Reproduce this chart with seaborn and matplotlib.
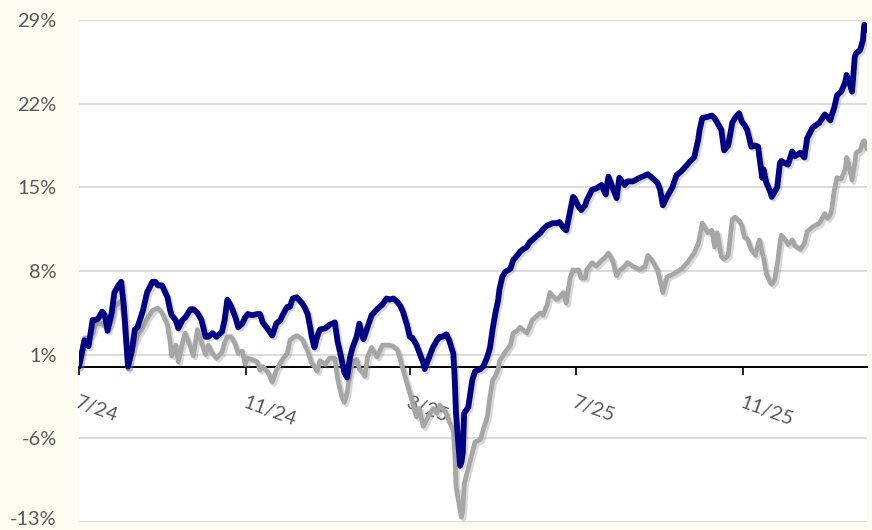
import pandas as pd
import seaborn as sns
import matplotlib
matplotlib.use('Agg')
import matplotlib.pyplot as plt
from matplotlib import patheffects
from matplotlib.ticker import FuncFormatter
from matplotlib.transforms import ScaledTranslation

# ====================
# Data (cumulative return, %)
# ====================

dates = [
    '2024-07-01', '2024-07-05', '2024-07-08', '2024-07-11', '2024-07-13', '2024-07-15', '2024-07-18',
    '2024-07-20', '2024-07-22', '2024-07-25', '2024-07-27', '2024-07-30',
    '2024-08-01', '2024-08-03', '2024-08-06', '2024-08-09', '2024-08-11', '2024-08-13', '2024-08-17',
    '2024-08-20', '2024-08-24', '2024-08-26', '2024-08-28', '2024-08-31',
    '2024-09-04', '2024-09-06', '2024-09-07', '2024-09-10', '2024-09-12', '2024-09-15', '2024-09-17',
    '2024-09-21', '2024-09-23', '2024-09-26', '2024-09-29',
    '2024-10-02', '2024-10-04', '2024-10-07', '2024-10-10', '2024-10-14', '2024-10-16', '2024-10-18',
    '2024-10-21', '2024-10-24', '2024-10-26', '2024-10-29', '2024-10-31',
    '2024-11-02', '2024-11-05', '2024-11-09', '2024-11-11', '2024-11-13', '2024-11-17', '2024-11-20',
    '2024-11-23', '2024-11-26', '2024-11-28',
    '2024-12-01', '2024-12-03', '2024-12-05', '2024-12-08', '2024-12-12', '2024-12-14', '2024-12-16',
    '2024-12-18', '2024-12-19', '2024-12-21', '2024-12-23', '2024-12-25', '2024-12-29',
    '2025-01-01', '2025-01-05', '2025-01-07', '2025-01-10', '2025-01-12', '2025-01-14', '2025-01-16',
    '2025-01-18', '2025-01-21', '2025-01-23', '2025-01-26', '2025-01-27', '2025-01-29',
    '2025-02-01', '2025-02-05', '2025-02-09', '2025-02-12', '2025-02-14', '2025-02-17', '2025-02-20',
    '2025-02-22', '2025-02-24', '2025-02-27',
    '2025-03-01', '2025-03-03', '2025-03-06', '2025-03-08', '2025-03-11', '2025-03-12', '2025-03-14',
    '2025-03-18', '2025-03-21', '2025-03-23', '2025-03-25', '2025-03-28', '2025-03-30',
    '2025-04-02', '2025-04-03', '2025-04-04', '2025-04-07', '2025-04-08', '2025-04-09', '2025-04-10',
    '2025-04-13', '2025-04-16', '2025-04-18', '2025-04-22', '2025-04-24', '2025-04-27', '2025-04-29',
    '2025-05-01', '2025-05-03', '2025-05-05', '2025-05-06', '2025-05-08', '2025-05-10', '2025-05-14',
    '2025-05-16', '2025-05-19', '2025-05-21', '2025-05-23', '2025-05-26', '2025-05-28', '2025-05-30',
    '2025-06-02', '2025-06-05', '2025-06-07', '2025-06-10', '2025-06-12', '2025-06-14', '2025-06-17',
    '2025-06-19', '2025-06-22', '2025-06-24', '2025-06-27', '2025-06-29', '2025-06-30',
    '2025-07-03', '2025-07-05', '2025-07-08', '2025-07-09', '2025-07-13', '2025-07-16', '2025-07-20',
    '2025-07-23', '2025-07-25', '2025-07-28', '2025-07-31',
    '2025-08-02', '2025-08-06', '2025-08-08', '2025-08-12', '2025-08-17', '2025-08-21', '2025-08-23',
    '2025-08-26', '2025-08-30',
    '2025-09-01', '2025-09-03', '2025-09-06', '2025-09-10', '2025-09-13', '2025-09-17', '2025-09-21',
    '2025-09-24', '2025-09-26', '2025-09-29', '2025-09-30',
    '2025-10-02', '2025-10-06', '2025-10-09', '2025-10-11', '2025-10-13', '2025-10-16', '2025-10-18',
    '2025-10-21', '2025-10-24', '2025-10-26', '2025-10-29', '2025-10-31',
    '2025-11-02', '2025-11-04', '2025-11-07', '2025-11-10', '2025-11-12', '2025-11-13', '2025-11-15',
    '2025-11-16', '2025-11-18', '2025-11-21', '2025-11-22', '2025-11-24', '2025-11-26', '2025-11-28',
    '2025-11-29',
    '2025-12-02', '2025-12-04', '2025-12-07', '2025-12-09', '2025-12-13', '2025-12-16', '2025-12-18',
    '2025-12-22', '2025-12-27', '2025-12-31',
    '2026-01-02', '2026-01-04', '2026-01-05', '2026-01-07', '2026-01-09', '2026-01-12', '2026-01-15',
    '2026-01-16', '2026-01-18', '2026-01-20', '2026-01-22', '2026-01-23', '2026-01-26', '2026-01-28',
    '2026-01-29', '2026-01-31',
]

portfolio = [
    0.0, 2.2, 1.7, 3.9, 3.9, 4.0, 4.6, 4.3, 3.0, 4.5, 6.2, 6.8,
    7.1, 5.0, 0.0, 1.4, 3.1, 3.3, 4.7, 6.2, 7.1, 7.1, 6.8, 6.8,
    5.8, 4.7, 4.3, 3.9, 3.2, 3.9, 4.1, 4.8, 4.8, 4.5, 3.9,
    2.5, 2.5, 2.8, 2.5, 2.9, 3.9, 5.6, 5.0, 4.1, 3.3, 3.6, 4.1,
    4.4, 4.3, 4.4, 4.4, 3.7, 3.1, 2.6, 3.6, 3.9, 4.4,
    5.0, 5.0, 5.7, 5.8, 5.3, 4.9, 4.4, 3.2, 2.5, 1.6, 2.5, 3.1, 3.2,
    3.5, 3.7, 2.1, 0.6, -0.5, -0.9, 0.7, 1.6, 2.5, 3.6, 2.3, 2.6, 3.3,
    4.3, 4.8, 5.2, 5.7, 5.6, 5.7, 5.4, 5.1, 4.6, 3.5,
    2.5, 2.4, 1.8, 1.2, 0.3, -0.2, 0.4, 1.6, 2.2, 2.5, 2.5, 2.7, 2.2,
    1.1, -0.8, -3.9, -8.3, -8.0, -7.2, -3.9, -3.4, -1.1, -0.4, -0.2, 0.0, 0.8, 1.6,
    3.2, 4.5, 5.6, 6.5, 7.5, 7.9, 8.2, 8.9, 9.3, 9.6, 9.8, 10.0, 10.4, 10.6,
    10.9, 11.2, 11.5, 11.8, 11.9, 12.0, 12.0, 12.1, 11.6, 11.4, 13.1, 14.2, 14.1,
    13.4, 13.1, 13.5, 13.9, 14.8, 14.9, 15.2, 14.4, 15.9, 15.0, 14.1,
    15.8, 15.2, 15.5, 15.5, 15.8, 16.0, 16.1, 15.8, 15.4,
    14.8, 13.5, 14.2, 15.0, 16.0, 16.4, 16.9, 17.3, 17.5, 19.0, 19.8,
    20.8, 20.9, 21.0, 20.8, 20.4, 19.8, 18.1, 18.5, 20.4, 20.8, 21.2, 20.5,
    20.2, 19.8, 18.4, 18.5, 18.4, 17.5, 15.8, 16.5, 15.4, 14.6, 14.2, 14.6, 15.0, 17.0,
    17.2,
    17.0, 16.9, 18.0, 17.6, 17.9, 17.5, 19.1, 20.0, 20.4, 21.1,
    20.9, 20.6, 21.0, 21.7, 22.7, 23.0, 23.8, 24.4, 23.8, 23.0, 25.9, 26.2, 26.5, 27.3,
    28.6, 28.2,
]

benchmark = [
    0.0, 2.4, 2.4, 2.8, 3.5, 3.6, 3.6, 3.4, 3.2, 3.9, 5.0, 5.3,
    5.5, 4.0, -0.2, 1.4, 2.0, 2.6, 3.3, 4.0, 4.7, 4.8, 4.9, 4.5,
    3.5, 2.0, 0.9, 1.8, 0.4, 2.0, 2.8, 1.6, 0.9, 3.1, 2.0,
    1.0, 1.8, 1.1, 0.7, 1.2, 2.0, 2.5, 2.5, 1.8, 1.1, 1.3, 0.2,
    0.7, 0.6, 0.4, -0.3, 0.0, -0.5, -1.3, -0.3, 0.3, 0.7,
    1.1, 2.2, 2.4, 2.6, 2.3, 1.8, 1.3, 0.6, 0.3, 0.0, -0.4, 0.5, 0.2,
    0.7, 0.7, -1.0, -2.5, -3.0, -2.2, -0.5, 0.4, 0.6, -0.2, -0.6, -0.8, 0.8,
    1.6, 0.8, 1.8, 1.8, 1.8, 1.7, 1.4, 0.6, -0.2, -1.4,
    -2.2, -3.0, -4.2, -3.5, -5.0, -4.8, -4.3, -3.5, -3.9, -3.2, -3.5, -3.9, -4.6,
    -5.3, -7.0, -10.0, -12.0, -12.6, -12.0, -9.8, -8.5, -7.2, -6.3, -6.1, -5.3, -4.2, -2.5,
    -1.1, -0.8, -0.2, 0.5, 0.8, 1.2, 1.8, 2.8, 3.0, 3.3, 3.1, 2.8, 3.3, 3.9,
    4.2, 4.5, 4.3, 5.2, 6.2, 5.9, 5.6, 5.8, 6.2, 5.3, 7.5, 8.1, 8.0,
    8.1, 7.4, 7.4, 8.1, 8.7, 8.4, 8.9, 9.2, 9.5, 8.9, 7.6,
    8.0, 8.4, 8.7, 8.4, 8.1, 8.4, 9.3, 8.9, 8.1,
    7.2, 6.2, 7.5, 7.7, 7.9, 8.2, 8.7, 9.2, 9.5, 10.3, 10.8,
    12.0, 11.2, 11.4, 10.0, 11.2, 9.2, 9.0, 9.3, 12.3, 12.5, 12.2, 11.8,
    10.8, 10.7, 9.8, 9.3, 10.3, 10.6, 9.5, 9.1, 7.8, 7.0, 6.9, 7.2, 8.5, 10.3,
    11.0,
    10.6, 10.2, 10.6, 10.1, 9.8, 10.3, 11.3, 11.7, 12.0, 12.8,
    12.4, 12.7, 13.1, 14.8, 15.8, 15.7, 16.5, 17.5, 16.7, 15.6, 17.0, 17.9, 18.1, 18.8,
    18.9, 18.2,
]

tick_dates = ['2024-07-01', '2024-11-01', '2025-03-01', '2025-07-01', '2025-11-01']
tick_labels = ['7/24', '11/24', '3/25', '7/25', '11/25']
y_ticks = [-13, -6, 1, 8, 15, 22, 29]

df = pd.DataFrame({'date': pd.to_datetime(dates),
                   'portfolio': portfolio,
                   'benchmark': benchmark})

# ====================
# Plotting
# ====================

sns.set_style('white')
plt.rcParams['font.family'] = ['Lato', 'DejaVu Sans']

fig = plt.figure(figsize=(8.72, 5.30), dpi=100, facecolor='#fcfdf0')
ax = fig.add_axes([79 / 872, 8 / 530, 788 / 872, 502 / 530])
ax.set_facecolor('white')

shadow = [patheffects.SimpleLineShadow(offset=(1.5, -1.5), shadow_color='#808080', alpha=0.3),
          patheffects.Normal()]

sns.lineplot(data=df, x='date', y='benchmark', ax=ax, color='#a6a6a6', lw=3.4,
             solid_joinstyle='round', path_effects=shadow)
sns.lineplot(data=df, x='date', y='portfolio', ax=ax, color='#000080', lw=4.2,
             solid_joinstyle='round', path_effects=shadow)

ax.set_ylim(-13, 29)
ax.set_yticks(y_ticks)
ax.yaxis.set_major_formatter(FuncFormatter(lambda v, p: f'{v:.0f}%'))
ax.set_xlim(pd.Timestamp('2024-07-01'), pd.Timestamp('2026-01-31'))

ax.yaxis.grid(True, color='#d9d9d9', lw=1.3)
ax.xaxis.grid(False)
ax.set_axisbelow(True)

for side in ['left', 'right', 'top']:
    ax.spines[side].set_visible(False)
ax.spines['bottom'].set_position(('data', 0))
ax.spines['bottom'].set_color('black')
ax.spines['bottom'].set_linewidth(1.4)
ax.spines['bottom'].set_zorder(1.5)

ax.set_xticks(pd.to_datetime(tick_dates))
ax.set_xticklabels(tick_labels, rotation=-20, ha='left', va='top', rotation_mode='anchor')
ax.tick_params(axis='x', direction='out', length=6, width=1.2, color='black',
               pad=14, labelsize=14.4, labelcolor='#595959', bottom=True)
ax.tick_params(axis='y', length=0, pad=16, labelsize=14.4, labelcolor='#595959')
ax.set_xlabel('')
ax.set_ylabel('')

# keep the lowest y label inside the figure
fig.canvas.draw()
low_label = ax.get_yticklabels()[0]
low_label.set_transform(low_label.get_transform() + ScaledTranslation(0, 3 / 72, fig.dpi_scale_trans))

fig.savefig('out.png', dpi=100, facecolor=fig.get_facecolor())
